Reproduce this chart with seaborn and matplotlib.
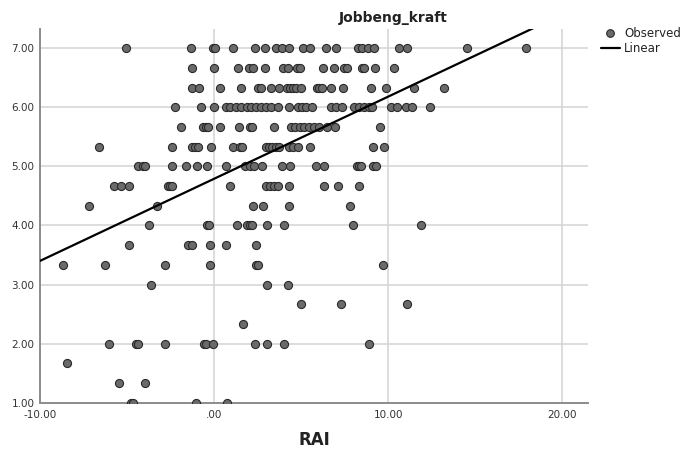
import numpy as np
import pandas as pd
import matplotlib
matplotlib.use("Agg")
import matplotlib.pyplot as plt
import seaborn as sns
from matplotlib.lines import Line2D

# RAI scores, grouped by the Jobbeng_kraft score of each respondent
rai_700 = [-5.05, -1.32, -0.04, 0.04, 1.10, 2.35, 2.91, 3.57, 3.92, 4.29, 5.11, 5.49,
           6.42, 6.99, 8.29, 8.49, 8.82, 9.16, 10.64, 11.07, 14.56, 17.92]
rai_667 = [-1.24, 0.01, 1.36, 1.99, 2.22, 2.91, 3.97, 4.25, 4.74, 4.92, 6.25, 6.91,
           7.46, 7.63, 8.50, 8.62, 9.23, 10.31]
rai_633 = [-1.24, -0.88, 0.34, 1.53, 2.54, 2.71, 3.25, 3.75, 4.21, 4.37, 4.54, 4.72,
           4.97, 5.93, 6.05, 6.18, 6.74, 7.38, 8.99, 9.89, 11.47, 13.22]
rai_600 = [-2.24, -0.75, 0.00, 0.69, 0.90, 1.25, 1.53, 1.88, 2.13, 2.39, 2.68, 2.97,
           3.25, 3.65, 4.30, 4.82, 5.03, 5.26, 5.63, 6.70, 7.01, 7.37, 8.04, 8.30,
           8.61, 8.89, 9.10, 10.14, 10.52, 11.00, 11.38, 12.39]
rai_567 = [-1.89, -0.62, -0.48, -0.36, 0.34, 1.42, 2.05, 2.19, 3.45, 4.40, 4.66, 4.92,
           5.17, 5.46, 5.75, 6.02, 6.51, 6.92, 9.56]
rai_533 = [-6.63, -2.39, -1.24, -1.09, -0.95, -0.17, 1.10, 1.47, 1.62, 2.97, 3.16, 3.35,
           3.54, 3.71, 4.29, 4.52, 4.80, 5.49, 9.15, 9.75]
rai_500 = [-4.39, -4.11, -3.96, -2.39, -1.64, -0.98, -0.38, 0.70, 1.76, 2.05, 2.31, 2.78,
           3.92, 4.34, 5.87, 6.32, 8.19, 8.33, 8.47, 9.12, 9.33]
rai_467 = [-5.74, -5.35, -4.88, -2.67, -2.56, -2.44, 0.92, 2.97, 3.21, 3.43, 3.68, 4.30,
           6.31, 7.14, 8.33]
rai_433 = [-7.21, -3.25, 2.25, 2.82, 4.33, 7.81]
rai_400 = [-3.71, -0.42, -0.30, 1.34, 1.89, 2.08, 2.19, 3.02, 4.00, 8.00, 11.89]
rai_367 = [-4.88, -1.49, -1.24, -0.23, 0.68, 2.43]
rai_333 = [-8.70, -6.27, -2.81, -0.23, 2.43, 2.54, 9.72]
rai_300 = [-3.61, 3.02, 4.27]
rai_267 = [5.01, 7.27, 11.07]
rai_233 = [1.66]
rai_200 = [-6.04, -4.49, -4.39, -2.81, -0.59, -0.48, -0.06, 2.34, 3.02, 4.02, 8.92]
rai_167 = [-8.43]
rai_133 = [-5.47, -3.96]
rai_100 = [-4.78, -4.66, -1.05, 0.77]

score_levels = [7.000, 6.667, 6.333, 6.000, 5.667, 5.333, 5.000, 4.667, 4.333, 4.000,
                3.667, 3.333, 3.000, 2.667, 2.333, 2.000, 1.667, 1.333, 1.000]
rai_groups = [rai_700, rai_667, rai_633, rai_600, rai_567, rai_533, rai_500, rai_467,
              rai_433, rai_400, rai_367, rai_333, rai_300, rai_267, rai_233, rai_200,
              rai_167, rai_133, rai_100]

# Linear fit of Jobbeng_kraft on RAI
fit_intercept = 4.79
fit_slope = 0.139

x_ticks = [-10, 0, 10, 20]
x_tick_labels = ["-10.00", ".00", "10.00", "20.00"]
y_ticks = [1, 2, 3, 4, 5, 6, 7]
y_tick_labels = ["1.00", "2.00", "3.00", "4.00", "5.00", "6.00", "7.00"]

df = pd.DataFrame({
    "RAI": [x for grp in rai_groups for x in grp],
    "Jobbeng_kraft": [lvl for lvl, grp in zip(score_levels, rai_groups) for _ in grp],
})

sns.set_style("white")
plt.rcParams["font.family"] = ["DejaVu Sans"]

W, H = 684, 450
fig = plt.figure(figsize=(W / 100, H / 100), dpi=100)
ax = fig.add_axes([40 / W, 1 - 402.7 / H, (588.3 - 40) / W, (402.7 - 29.3) / H])

xlim = (-10.0, 21.5)
ylim = (1.0, 7.32)
ax.set_xlim(*xlim)
ax.set_ylim(*ylim)

grid_color = "#d3d3d3"
for xv in x_ticks:
    ax.axvline(xv, color=grid_color, lw=1.1, zorder=0)
for yv in y_ticks:
    ax.axhline(yv, color=grid_color, lw=1.1, zorder=0)

point_fill = "#6a6a6a"
point_edge = "#2a2a2a"
sns.scatterplot(data=df, x="RAI", y="Jobbeng_kraft", ax=ax, s=34,
                color=point_fill, edgecolor=point_edge, linewidth=0.8,
                zorder=3, legend=False)

line_x = np.array(xlim)
line_df = pd.DataFrame({"RAI": line_x, "fit": fit_intercept + fit_slope * line_x})
sns.lineplot(data=line_df, x="RAI", y="fit", ax=ax, color="black", lw=1.6,
             zorder=4, legend=False)

ax.set_xticks(x_ticks)
ax.set_xticklabels(x_tick_labels)
ax.set_yticks(y_ticks)
ax.set_yticklabels(y_tick_labels)
ax.tick_params(axis="both", length=0, labelsize=7.5, colors="#333333")
ax.tick_params(axis="x", pad=5)
ax.tick_params(axis="y", pad=4)

for side in ("top", "right"):
    ax.spines[side].set_visible(False)
for side in ("left", "bottom"):
    ax.spines[side].set_color("#8c8c8c")
    ax.spines[side].set_linewidth(1.4)

ax.set_ylabel("")
ax.set_xlabel("RAI", fontsize=12, fontweight="bold", color="#222222", labelpad=8)
fig.text(393 / W, 1 - 18 / H, "Jobbeng_kraft", fontsize=10, fontweight="bold",
         color="#222222", ha="center", va="center")

handles = [
    Line2D([], [], marker="o", linestyle="none", markersize=5.5,
           markerfacecolor=point_fill, markeredgecolor=point_edge, markeredgewidth=0.8),
    Line2D([], [], color="black", lw=1.6),
]
fig.legend(handles, ["Observed", "Linear"], loc="upper left",
           bbox_to_anchor=(601 / W, 1 - 27 / H), frameon=False, fontsize=8.5,
           handlelength=1.6, handletextpad=0.35, labelspacing=0.2,
           borderaxespad=0, borderpad=0, labelcolor="#222222")

fig.savefig("out.png", dpi=100)
